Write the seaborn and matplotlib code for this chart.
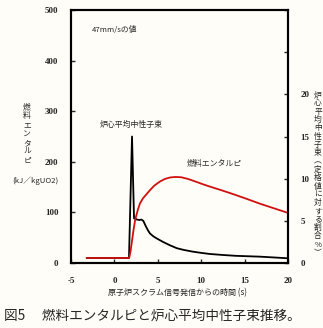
import matplotlib
matplotlib.use("Agg")
import matplotlib.pyplot as plt
import seaborn as sns
import pandas as pd

# ---- data ----
enth_t = [-3.2, 1.7, 1.85, 2.0, 2.2, 2.4, 2.7, 2.95, 3.3, 3.7, 4.1, 4.6, 5.25, 5.8, 6.4,
          7.0, 7.7, 8.5, 9.5, 10.3, 11.0, 12.3, 13.7, 15.2, 16.8, 18.4, 20.0]
enth_v = [10, 10, 22, 40, 65, 86, 105, 118, 128, 136, 144, 153, 161, 166, 169,
          170, 169.5, 166, 160, 155, 151, 144, 136, 127, 117, 108, 99]

flux_t = [-3.2, 1.68, 2.03, 2.26, 2.6, 2.87, 3.1, 3.33, 3.6, 3.85, 4.1, 4.5, 4.9, 5.6, 6.4,
          7.2, 8.0, 9.0, 10.0, 11.0, 12.5, 14.0, 16.8, 18.5, 20.0]
flux_v = [0.6, 0.6, 15.0, 5.3, 5.15, 5.1, 5.15, 5.0, 4.4, 3.9, 3.5, 3.15, 2.9, 2.5, 2.1,
          1.75, 1.55, 1.35, 1.2, 1.07, 0.95, 0.85, 0.75, 0.65, 0.56]

x_ticks = [-5, 0, 5, 10, 15, 20]
left_ticks = [0, 100, 200, 300, 400, 500]
right_ticks = [0, 5, 10, 15, 20, 25, 30]
right_labels = ["0", "5", "10", "15", "20", "", ""]

sns.set_style("ticks")
plt.rcParams["font.family"] = ["Noto Sans CJK JP", "DejaVu Sans"]

W, H = 323, 328
fig = plt.figure(figsize=(W / 100, H / 100), dpi=100)
bg = "#fefdf7"
fig.patch.set_facecolor(bg)
ax = fig.add_axes([71 / W, 1 - 263 / H, (288 - 71) / W, (263 - 10) / H])
ax2 = ax.twinx()

df_e = pd.DataFrame({"t": enth_t, "v": enth_v})
df_f = pd.DataFrame({"t": flux_t, "v": flux_v})

sns.lineplot(data=df_f, x="t", y="v", ax=ax2, color="black", lw=1.3, sort=False)
sns.lineplot(data=df_e, x="t", y="v", ax=ax, color="#d01010", lw=1.3, sort=False)

ax.set_zorder(ax2.get_zorder() + 1)
ax.patch.set_visible(False)
ax2.patch.set_facecolor(bg)

ax.set_xlim(-5, 20)
ax.set_ylim(0, 500)
ax2.set_ylim(0, 30)

tickfont = dict(family="Liberation Serif", weight="bold", size=6.5)
ax.set_xticks(x_ticks)
ax.set_xticklabels([str(v) for v in x_ticks], fontdict=tickfont)
ax.set_yticks(left_ticks)
ax.set_yticklabels([str(v) for v in left_ticks], fontdict=tickfont)
ax2.set_yticks(right_ticks)
ax2.set_yticklabels(right_labels, fontdict=tickfont)

ax.tick_params(axis="both", direction="in", length=3, width=1.0, pad=9)
ax.tick_params(axis="x", pad=10)
ax2.tick_params(axis="y", direction="in", length=3, width=1.0, pad=9)
for a in (ax, ax2):
    for s in a.spines.values():
        s.set_linewidth(1.5)
        s.set_color("black")

ax.set_xlabel("")
ax.set_ylabel("")
ax2.set_ylabel("")

ax.text(-2.6, 460, "47mm/sの値", fontsize=5.6, ha="left", va="center")
ax.text(1.97, 273, "炉心平均中性子束", fontsize=5.7, ha="center", va="center")
ax.text(11.5, 196, "燃料エンタルピ", fontsize=5.7, ha="center", va="center")

fig.text(177 / W, 1 - 293 / H, "原子炉スクラム信号発信からの時間 (s)", fontsize=5.8,
         ha="center", va="center")
fig.text(27 / W, 1 - 134 / H, "\n".join("燃料エンタルピ"), fontsize=5.6,
         ha="center", va="center", linespacing=1.15)
fig.text(35 / W, 1 - 181 / H, "(kJ／kgUO2)", fontsize=5.6, ha="center", va="center")
fig.text(318 / W, 1 - 174 / H, "\n".join("炉心平均中性子束︵定格値に対する割合%︶"),
         fontsize=5.6, ha="center", va="center", linespacing=1.05)
fig.text(4 / W, 1 - 316 / H, "図5　 燃料エンタルピと炉心平均中性子束推移。", fontsize=9.8,
         ha="left", va="center")

fig.savefig("out.png", dpi=100, facecolor=bg)
